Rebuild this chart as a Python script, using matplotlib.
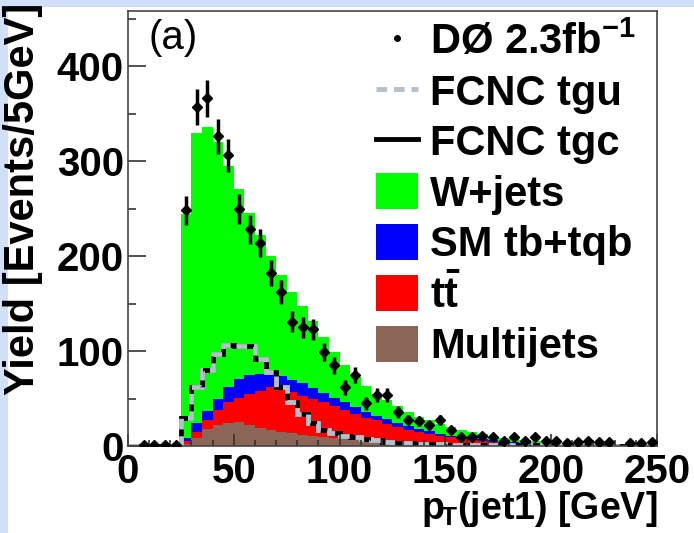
import numpy as np
import matplotlib
matplotlib.use("Agg")
import matplotlib.pyplot as plt
from matplotlib.lines import Line2D
from matplotlib.patches import Patch, Rectangle

plt.rcParams['font.family'] = ['Liberation Sans', 'DejaVu Sans']
plt.rcParams['font.weight'] = 'bold'
plt.rcParams['mathtext.fontset'] = 'custom'
plt.rcParams['mathtext.rm'] = 'Liberation Sans:bold'
plt.rcParams['mathtext.it'] = 'Liberation Sans:bold'
plt.rcParams['mathtext.bf'] = 'Liberation Sans:bold'
plt.rcParams['mathtext.default'] = 'rm'

# 5 GeV bins, 0-250 GeV
bin_edges = np.arange(0, 255, 5)

multijets = [0, 0, 0, 0, 0, 2, 8, 18, 22, 24,
             25, 22, 19, 17, 15, 14, 12, 11, 9, 8,
             7, 6, 5, 4.5, 4, 3.5, 3, 2.5, 2, 2,
             1.5, 1.5, 1, 1, 1, 0.5, 0.5, 0.5, 0.4, 0.4,
             0.3, 0.3, 0.3, 0.2, 0.2, 0.2, 0.2, 0.1, 0.1, 0.1]
ttbar = [0, 0, 0, 0, 0, 3, 7, 9, 16, 22,
         26, 33, 39, 45, 45, 43, 41, 39, 37, 34,
         31, 28, 25, 22.5, 19, 16.5, 14, 12.5, 11, 9,
         7.5, 6, 5.5, 4.5, 3.5, 3, 2.5, 2, 1.5, 1.3,
         1, 0.9, 0.7, 0.6, 0.6, 0.5, 0.4, 0.3, 0.3, 0.3]
sm_top = [0, 0, 0, 0, 0, 3, 9, 10, 12, 16,
          20, 20, 18, 15, 14, 13, 13, 11, 10, 9,
          8, 7, 6, 5, 5, 4, 4, 3, 2.5, 2,
          2, 1.5, 1.5, 1.5, 1.5, 1, 1, 0.8, 0.8, 0.6,
          0.6, 0.5, 0.4, 0.3, 0.3, 0.3, 0.2, 0.2, 0.2, 0.1]
wjets = [0, 0, 0, 0, 0, 236, 306, 299, 270, 233,
         200, 170, 146, 123, 106, 92, 81, 71, 59, 48,
         39, 32, 27, 23, 20, 18, 15, 13, 11.5, 10,
         9, 8, 6.5, 5.5, 4.5, 4, 3.5, 3.2, 2.7, 2.2,
         2, 1.8, 1.6, 1.5, 1.3, 1.1, 1.1, 1.0, 0.9, 0.8]
fcnc_tgu = [0, 0, 0, 0, 0.5, 29, 62, 80, 97, 106,
            105, 105, 92, 78, 62, 46, 34, 24, 17, 14,
            11, 9, 7, 6, 4.5, 3.5, 3, 2.5, 2, 2,
            1.5, 1.5, 1.2, 1.2, 1, 1, 0.8, 0.8, 0.7, 0.6,
            0.6, 0.5, 0.5, 0.4, 0.4, 0.3, 0.3, 0.3, 0.3, 0.3]
fcnc_tgc = [0, 0, 0, 0, 0.5, 29, 62, 80, 97, 106,
            105, 105, 92, 78, 62, 46, 34, 24, 17, 14,
            11, 9, 7, 6, 4.5, 3.5, 3, 2.5, 2, 2,
            1.5, 1.5, 1.2, 1.2, 1, 1, 0.8, 0.8, 0.7, 0.6,
            0.6, 0.5, 0.5, 0.4, 0.4, 0.3, 0.3, 0.3, 0.3, 0.3]
data = [0, 1, 1, 1, 1, 248, 357, 366, 326, 306,
        250, 228, 214, 182, 162, 131, 125, 123, 99, 85,
        62, 75, 45, 54, 54, 36, 27, 26, 22, 27,
        17, 10, 9, 11, 9, 5, 10, 5, 9, 5,
        5, 3, 4, 5, 4, 4, 0, 3, 3, 4]

c_green = '#00ff00'
c_blue = '#0000ff'
c_red = '#ff0000'
c_brown = '#8b6656'
c_grey = '#b4c0cc'

fig = plt.figure(figsize=(6.94, 5.33), dpi=100, facecolor='#cfe0f8')
fig.patches.append(Rectangle((0.012, 0), 0.988, 0.986, transform=fig.transFigure,
                             facecolor='white', edgecolor='none', zorder=-10))
ax = fig.add_axes([0.1844, 0.1632, 0.7622, 0.8161])

# stacked backgrounds, drawn from the top of the stack down
stack = np.cumsum([multijets, ttbar, sm_top, wjets], axis=0)
for cum, color in zip(stack[::-1], [c_green, c_blue, c_red, c_brown]):
    ax.stairs(cum, bin_edges, fill=True, color=color, linewidth=0)

# signal templates
ax.stairs(fcnc_tgc, bin_edges, color='black', linewidth=3.5)
ax.stairs(fcnc_tgu, bin_edges, color=c_grey, linewidth=3.5, linestyle=(0, (2.2, 1.4)))

# data
centers = 0.5 * (bin_edges[:-1] + bin_edges[1:])
data = np.array(data, dtype=float)
mask = data > 0
ax.errorbar(centers[mask], data[mask], yerr=np.sqrt(data[mask]), fmt='D', color='black',
            markersize=5, elinewidth=2.5, capsize=0, zorder=5)

ax.set_xlim(0, 250)
ax.set_ylim(0, 458)
ax.set_xticks(np.arange(0, 251, 50))
ax.set_xticks(np.arange(0, 251, 10), minor=True)
ax.set_yticks(np.arange(0, 401, 100))
ax.set_yticks(np.arange(0, 451, 50), minor=True)
ax.tick_params(which='both', direction='in', labelsize=29, colors='#333333',
               labelcolor='black', width=1.2)
ax.tick_params(axis='y', which='major', length=13, pad=3)
ax.tick_params(axis='y', which='minor', length=6)
ax.tick_params(axis='x', which='major', length=9, pad=5)
ax.tick_params(axis='x', which='minor', length=4)
for lab in ax.get_xticklabels() + ax.get_yticklabels():
    lab.set_fontweight('bold')
for sp in ax.spines.values():
    sp.set_color('#444444')
    sp.set_linewidth(1.2)

ax.set_ylabel('Yield [Events/5GeV]', fontsize=30, fontweight='bold',
              ha='right')
ax.yaxis.set_label_coords(-0.16, 1.02)
ax.set_xlabel('p$_{\\!T}$(jet1) [GeV]', fontsize=27, fontweight='bold', ha='right', va='top')
ax.xaxis.set_label_coords(1.0, -0.098)

ax.text(0.038, 0.982, '(a)', transform=ax.transAxes, fontsize=29, fontweight='normal',
        va='top', ha='left')

handles = [
    Line2D([], [], marker='o', color='black', linestyle='none', markersize=4),
    Line2D([], [], color=c_grey, linewidth=3.5, linestyle=(0, (2.2, 1.4))),
    Line2D([], [], color='black', linewidth=3.5),
    Patch(facecolor=c_green),
    Patch(facecolor=c_blue),
    Patch(facecolor=c_red),
    Patch(facecolor=c_brown),
]
labels = ['DØ 2.3fb$^{-1}$', 'FCNC tgu', 'FCNC tgc', 'W+jets', 'SM tb+tqb',
          r'$t\bar{t}$', 'Multijets']
ax.legend(handles, labels, loc='upper left', bbox_to_anchor=(0.469, 0.975),
          frameon=False, prop={'size': 30, 'weight': 'bold'},
          handlelength=1.0, handleheight=0.95, handletextpad=0.3,
          labelspacing=0.22, borderaxespad=0, borderpad=0)

fig.savefig('out.png', dpi=100, facecolor=fig.get_facecolor())
